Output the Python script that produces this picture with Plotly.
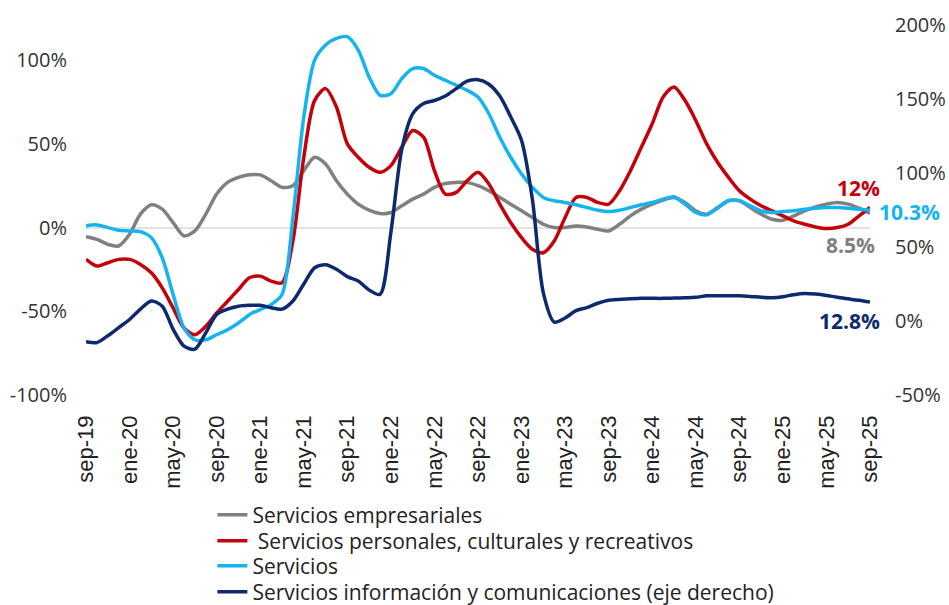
import plotly.graph_objects as go

tick_labels = ["sep-19", "ene-20", "may-20", "sep-20", "ene-21", "may-21", "sep-21",
               "ene-22", "may-22", "sep-22", "ene-23", "may-23", "sep-23", "ene-24",
               "may-24", "sep-24", "ene-25", "may-25", "sep-25"]

# monthly values, sep-19 .. sep-25 (73 months)
empresariales = [-5.4, -7, -10, -11, -4, 8, 13.6, 11, 3, -5, -2, 8, 20, 27, 30, 31.5, 31.5,
                 28, 24, 25, 34, 42, 38, 28, 20, 14, 10.4, 8.4, 9, 13, 17, 20, 24, 26.4, 27,
                 27, 25, 22, 18, 14, 10, 6, 2, 0, 0, 1, 0.4, -1, -2, 2, 7, 11, 14, 16.4, 18,
                 15, 10, 8, 12, 16, 16, 12, 8, 5, 4.4, 7, 10, 12.4, 14, 15, 14, 11.6, 8.5]

personales = [-19, -23, -21, -19, -19, -22, -27, -36, -48, -60, -64, -59, -51, -44, -37,
              -30, -29, -32, -33, -8, 42, 76, 83, 72, 50, 42, 36, 33, 37, 48, 58, 54, 34,
              20, 21, 28, 33, 26, 14, 3, -6, -13, -15, -8, 6, 18, 18, 15, 14, 22, 34, 48,
              62, 78, 84, 76, 64, 50, 39, 30, 22, 17, 13, 10, 7, 4, 2, 0.4, -0.6, 0, 2, 7, 12]

servicios = [1, 1.6, 0, -1.6, -2, -2.4, -6, -18, -40, -60, -67, -67, -64, -61, -57, -52,
             -49, -46, -40, 6, 66, 100, 109, 113, 114, 106, 90, 79, 80, 89, 95, 95, 91, 88,
             85, 82, 78, 68, 54, 42, 32, 24, 18, 16, 15, 13.6, 12, 10.4, 9.6, 10.4, 12,
             13.6, 15, 17, 18.4, 14, 9, 7.6, 11.6, 16, 16, 13, 10, 9, 9.6, 10, 11, 11.6, 12,
             12, 11.6, 11, 10.3]

informacion = [-14, -14.6, -10, -4.5, 1, 8, 13.5, 10, -5.6, -17, -19, -8, 4.5, 8, 10, 10.6,
               10.6, 9, 8, 13.5, 25, 36, 38, 35, 30, 27, 21, 18, 60, 116, 140, 147, 149, 152,
               157, 162, 163, 160, 152, 138, 122, 82, 19, -0.7, 2, 7, 9, 12, 14, 14.6, 15,
               15.3, 15.3, 15.3, 15.5, 15.7, 16, 17, 17, 17, 17, 16.6, 16, 15.7, 16.4, 17.8,
               18.6, 18.2, 17.3, 16, 15, 14, 12.8]

series_names = ["Servicios empresariales",
                " Servicios personales, culturales y recreativos",
                "Servicios",
                "Servicios información y comunicaciones (eje derecho)"]
colors = ["#808080", "#c4000a", "#16b4ee", "#0d2a6e"]
end_labels = ["8.5%", "12%", "10.3%", "12.8%"]

x = list(range(len(empresariales)))
tick_vals = list(range(0, len(x), 4))

FONT = "Open Sans"
fig = go.Figure()
data = [empresariales, personales, servicios, informacion]
legend_ids = ["legend", "legend2", "legend3", "legend4"]
for i, (name, vals, col) in enumerate(zip(series_names, data, colors)):
    fig.add_trace(go.Scatter(
        x=x, y=vals, name=name, mode="lines",
        line=dict(color=col, width=3.5, shape="spline", smoothing=0.8),
        yaxis="y2" if i == 3 else "y",
        legend=legend_ids[i],
    ))

# end labels anchored to last points
ann_cfg = [
    dict(xanchor="right", yanchor="middle", xshift=7, yshift=-32),   # gray
    dict(xanchor="right", yanchor="middle", xshift=12, yshift=19),   # red
    dict(xanchor="left", yanchor="middle", xshift=7, yshift=-2),     # cyan
    dict(xanchor="right", yanchor="middle", xshift=12, yshift=-19),  # navy
]
for i, (vals, col, lab, cfg) in enumerate(zip(data, colors, end_labels, ann_cfg)):
    fig.add_annotation(
        x=x[-1], y=vals[-1], xref="x", yref="y2" if i == 3 else "y",
        text="<b>" + lab + "</b>", showarrow=False,
        font=dict(family=FONT, size=21, color=col), **cfg)

legend_rows = [515, 541, 566, 592]
legend_common = dict(x=0.1612, xanchor="left", yanchor="middle",
                     font=dict(family=FONT, size=21, color="#222222"),
                     bgcolor="rgba(0,0,0,0)")
legends = {}
for lid, yc in zip(legend_ids, legend_rows):
    legends[lid] = dict(y=(395 - yc) / 370, **legend_common)

fig.update_layout(
    width=949, height=605,
    margin=dict(l=86, r=79, t=25, b=210, autoexpand=False),
    paper_bgcolor="white", plot_bgcolor="white",
    font=dict(family=FONT, size=17, color="#333333"),
    showlegend=True,
    xaxis=dict(range=[0, len(x) - 1], tickvals=tick_vals, ticktext=tick_labels,
               tickangle=-90, showgrid=False, zeroline=False, showline=False,
               ticks="", ticklabelstandoff=15,
               tickfont=dict(family="Liberation Sans", size=22, color="#222222")),
    yaxis=dict(range=[-100, 121], tickvals=[-100, -50, 0, 50, 100],
               ticktext=["-100%", "-50%", "0%", "50%", "100%"],
               showgrid=False, zeroline=True, zerolinecolor="#e3e3e3", zerolinewidth=2,
               showline=False, ticks="", ticklabelstandoff=18,
               tickfont=dict(family=FONT, size=20, color="#333333")),
    yaxis2=dict(range=[-50, 200], overlaying="y", side="right",
                tickvals=[-50, 0, 50, 100, 150, 200],
                ticktext=["-50%", "0%", "50%", "100%", "150%", "200%"],
                showgrid=False, zeroline=False, showline=False, ticks="",
                ticklabelstandoff=24,
                tickfont=dict(family=FONT, size=20, color="#333333")),
    **legends,
)

fig.write_html("out.html",
               config={"displayModeBar": False},
               post_script="document.body.style.margin='0px';"
                           "document.body.style.overflow='hidden';")
